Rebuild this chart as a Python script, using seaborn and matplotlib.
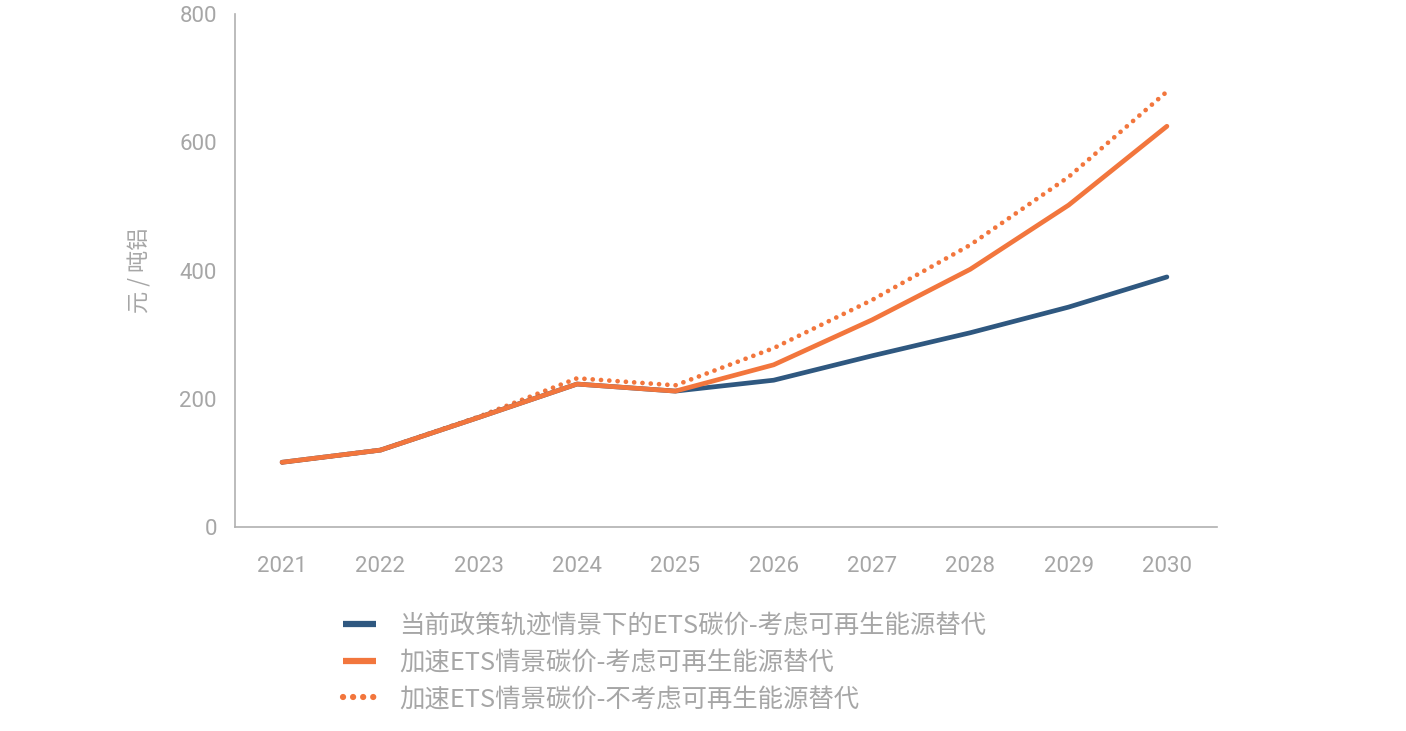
import matplotlib
matplotlib.use("Agg")
from matplotlib import pyplot as plt
from matplotlib.lines import Line2D
import pandas as pd
import seaborn as sns

years = [2021, 2022, 2023, 2024, 2025, 2026, 2027, 2028, 2029, 2030]
current_policy = [101, 120, 171, 223, 212, 229, 267, 303, 343, 390]
accel_renew = [101, 120, 171, 223, 212, 253, 323, 402, 502, 625]
accel_no_renew = [101, 120, 172, 232, 221, 279, 354, 440, 546, 679]

labels = ["当前政策轨迹情景下的ETS碳价-考虑可再生能源替代",
          "加速ETS情景碳价-考虑可再生能源替代",
          "加速ETS情景碳价-不考虑可再生能源替代"]
y_ticks = [0, 200, 400, 600, 800]

BLUE = "#2F5880"
ORANGE = "#F2763D"
GREY = "#A6A6A6"

df = pd.DataFrame({"year": years * 3,
                   "price": current_policy + accel_renew + accel_no_renew,
                   "series": [labels[0]] * 10 + [labels[1]] * 10 + [labels[2]] * 10})

sns.set_theme(style="white")
plt.rcParams['font.family'] = ['Roboto', 'Noto Sans CJK SC', 'DejaVu Sans']

fig = plt.figure(figsize=(14.06, 7.31), dpi=100)
ax = fig.add_axes([0.1671, 0.279, 0.6985, 0.7018])

LW = 3.4
DOTS = (0, (0.01, 1.75))

# dotted underneath, then blue, then solid orange on top
sns.lineplot(data=df[df.series == labels[2]], x="year", y="price", color=ORANGE,
             linewidth=LW, linestyle=DOTS, dash_capstyle="round", ax=ax, legend=False)
sns.lineplot(data=df[df.series == labels[0]], x="year", y="price", color=BLUE,
             linewidth=LW, ax=ax, legend=False)
sns.lineplot(data=df[df.series == labels[1]], x="year", y="price", color=ORANGE,
             linewidth=LW, ax=ax, legend=False)

ax.set_xlim(2020.52, 2030.51)
ax.set_ylim(0, 800)
ax.set_xticks(years)
ax.set_yticks(y_ticks)
ax.tick_params(axis="both", length=0, labelsize=16, labelcolor=GREY)
ax.tick_params(axis="x", pad=21)
ax.tick_params(axis="y", pad=13)
ax.set_xlabel("")
ax.set_ylabel("元 / 吨铝", fontsize=16, color=GREY, family=['Noto Sans CJK SC'], labelpad=20)
for side in ["top", "right"]:
    ax.spines[side].set_visible(False)
for side in ["left", "bottom"]:
    ax.spines[side].set_color("#B0B0B0")
    ax.spines[side].set_linewidth(1.2)

handles = [Line2D([], [], color=BLUE, linewidth=4.5, solid_capstyle="butt"),
           Line2D([], [], color=ORANGE, linewidth=4.5, solid_capstyle="butt"),
           Line2D([], [], color=ORANGE, linewidth=4.5, linestyle=(0, (0.01, 1.6)),
                  dash_capstyle="round")]
leg = fig.legend(handles, labels, loc="upper left", bbox_to_anchor=(0.228, 0.193),
                 frameon=False, handlelength=1.3, handletextpad=0.9, labelspacing=0.42,
                 prop={"family": ["Noto Sans CJK SC"], "size": 18.3})
for t in leg.get_texts():
    t.set_color(GREY)

fig.savefig("out.png", dpi=100)
